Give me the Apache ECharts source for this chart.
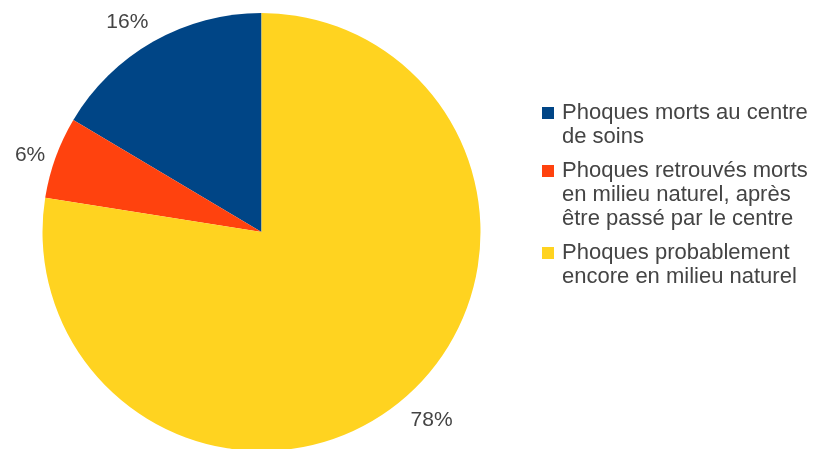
<!DOCTYPE html>
<html lang="fr">
<head>
	<meta charset="UTF-8">
	<title>phoques</title>
	<style>
		html, body { margin: 0; padding: 0; background: #fff; }
	</style>
</head>
<body>
	<div id="main" style="width: 817px;height: 449px"></div>
	<script src="https://cdn.jsdelivr.net/npm/echarts@6/dist/echarts.min.js"></script>
	<script>
		var categories = [
			'Phoques morts au centre\nde soins',
			'Phoques retrouvés morts\nen milieu naturel, après\nêtre passé par le centre',
			'Phoques probablement\nencore en milieu naturel'
		];
		var values = [16.45, 6.05, 77.5];
		var valueLabels = ['16%', '6%', '78%'];
		var colors = ['#004586', '#ff420e', '#ffd320'];
		var keys = ['c0', 'c1', 'c2'];

		var pieCenter = [261.5, 232];

		// legend: square next to the first line, not centred on the block
		var rich = { sp: { width: 20, height: 12 }, gap: { width: 8, height: 12 } };
		keys.forEach(function (k, i) {
			rich[k] = { width: 12, height: 12, backgroundColor: colors[i] };
		});

		var myChart = echarts.init(document.getElementById('main'));
		var option = {
			animation: false,
			color: colors,
			textStyle: { fontFamily: 'Liberation Sans' },
			legend: {
				orient: 'vertical',
				left: 537,
				top: 101,
				padding: 0,
				itemWidth: 0,
				itemHeight: 12,
				itemGap: 10,
				icon: 'rect',
				data: categories,
				formatter: function (name) {
					var i = categories.indexOf(name);
					var lines = name.split('\n');
					return lines.map(function (l, j) {
						return (j === 0 ? '{' + keys[i] + '|}{gap|}' : '{sp|}') + l;
					}).join('\n');
				},
				textStyle: {
					fontSize: 22,
					lineHeight: 24,
					color: '#444',
					rich: rich
				}
			},
			series: [{
				type: 'pie',
				center: pieCenter,
				radius: 219,
				startAngle: 90,
				clockwise: false,
				data: categories.map(function (c, i) {
					return { name: c, value: values[i] };
				}),
				label: {
					show: true,
					position: 'outside',
					formatter: function (p) { return valueLabels[p.dataIndex]; },
					fontSize: 21,
					color: '#444',
					overflow: 'none'
				},
				labelLine: { show: false, length: 12, length2: 0 },
				// labels mostly above/below the pie sit with their edge on the anchor
				labelLayout: function (p) {
					var r = p.labelRect;
					var right = p.align === 'right';
					var ax = right ? r.x + r.width : r.x;
					var ay = r.y + r.height / 2;
					var a = Math.atan2(pieCenter[1] - ay, ax - pieCenter[0]);
					var s = Math.sin(a);
					var out = { dx: right ? 6 : -6 };
					if (Math.abs(s) >= 0.5) out.dy = s > 0 ? -r.height / 2 + 2 : r.height / 2 + 2;
					else out.dy = 2;
					return out;
				},
				itemStyle: { borderWidth: 0 },
				emphasis: { disabled: true }
			}]
		};
		myChart.setOption(option);
	</script>
</body>
</html>
